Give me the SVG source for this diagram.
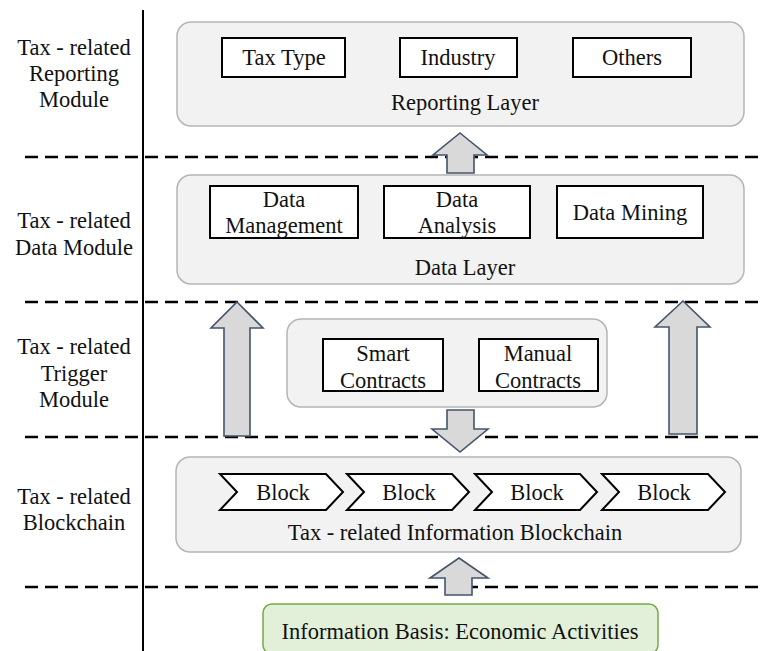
<svg xmlns="http://www.w3.org/2000/svg" width="762" height="651" viewBox="0 0 762 651">
<style>
text{font-size:22.5px;fill:#111;text-anchor:middle}
.layer{fill:#f2f2f2;stroke:#b5b5b5;stroke-width:1.5}
.box{fill:#fff;stroke:#000;stroke-width:2}
.arrow{fill:#d9d9d9;stroke:#44546a;stroke-width:1.6;stroke-linejoin:miter}
.dash{stroke:#000;stroke-width:2.5;stroke-dasharray:13 7;fill:none}
</style>
<rect width="762" height="651" fill="#fff"/>
<g id="grid">
<line x1="143" y1="10" x2="143" y2="651" stroke="#000" stroke-width="2"/>
<line class="dash" x1="25" y1="157" x2="762" y2="157"/>
<line class="dash" x1="25" y1="302" x2="762" y2="302"/>
<line class="dash" x1="25" y1="437" x2="762" y2="437"/>
<line class="dash" x1="25" y1="587" x2="762" y2="587"/>
</g>
<g font-family="'Liberation Serif', Tinos, 'Times New Roman', 'DejaVu Serif', 'Noto Serif', serif">
<g id="labels">
<text x="74" y="55">Tax - related</text><text x="74" y="81">Reporting</text><text x="74" y="107">Module</text>
<text x="74" y="228">Tax - related</text><text x="74" y="255">Data Module</text>
<text x="74" y="354">Tax - related</text><text x="74" y="381">Trigger</text><text x="74" y="407">Module</text>
<text x="74" y="504">Tax - related</text><text x="74" y="530">Blockchain</text>
</g>
<g id="reporting">
<rect class="layer" x="177" y="22" width="567" height="104" rx="14"/>
<rect class="box" x="222" y="38" width="123" height="39"/><text x="284" y="65">Tax Type</text>
<rect class="box" x="400" y="38" width="117" height="39"/><text x="458" y="65">Industry</text>
<rect class="box" x="573" y="38" width="118" height="39"/><text x="632" y="65">Others</text>
<text x="465" y="110">Reporting Layer</text>
</g>
<g id="data">
<rect class="layer" x="177" y="175" width="567" height="109" rx="14"/>
<rect class="box" x="210" y="186" width="148" height="52"/><text x="284" y="207">Data</text><text x="284" y="233">Management</text>
<rect class="box" x="384" y="186" width="146" height="52"/><text x="457" y="207">Data</text><text x="457" y="233">Analysis</text>
<rect class="box" x="557" y="186" width="146" height="52"/><text x="630" y="220">Data Mining</text>
<text x="465" y="275">Data Layer</text>
</g>
<g id="trigger">
<rect class="layer" x="287" y="319" width="320" height="88" rx="14"/>
<rect class="box" x="323" y="339" width="120" height="52"/><text x="383" y="361">Smart</text><text x="383" y="388">Contracts</text>
<rect class="box" x="479" y="339" width="119" height="52"/><text x="538" y="361">Manual</text><text x="538" y="388">Contracts</text>
</g>
<g id="blockchain">
<rect class="layer" x="176" y="457" width="565" height="95" rx="14"/>
<polygon class="box" points="220,474 326,474 343,492 326,510 220,510 237,492"/><text x="283" y="500">Block</text>
<polygon class="box" points="347,474 452,474 469,492 452,510 347,510 364,492"/><text x="409" y="500">Block</text>
<polygon class="box" points="475,474 580,474 597,492 580,510 475,510 492,492"/><text x="537" y="500">Block</text>
<polygon class="box" points="602,474 708,474 725,492 708,510 602,510 619,492"/><text x="664" y="500">Block</text>
<text x="455" y="540">Tax - related Information Blockchain</text>
</g>
<g id="basis">
<rect x="263" y="604" width="395" height="50" rx="9" fill="#e2efd9" stroke="#70ad47" stroke-width="1.5"/>
<text x="460" y="639">Information Basis: Economic Activities</text>
</g>
</g>
<g id="connectors">
<polygon class="arrow" points="460,133 487,155 474,155 474,173 447,173 447,155 433,155"/>
<polygon class="arrow" points="237,302 263,328 250,328 250,436 224,436 224,328 211,328"/>
<polygon class="arrow" points="683,301 710,327 697,327 697,434 669,434 669,327 655,327"/>
<polygon class="arrow" points="447,410 474,410 474,429 488,429 460,452 432,429 447,429"/>
<polygon class="arrow" points="459,558 488,578 472,578 472,595 445,595 445,578 430,578"/>
</g>
</svg>
